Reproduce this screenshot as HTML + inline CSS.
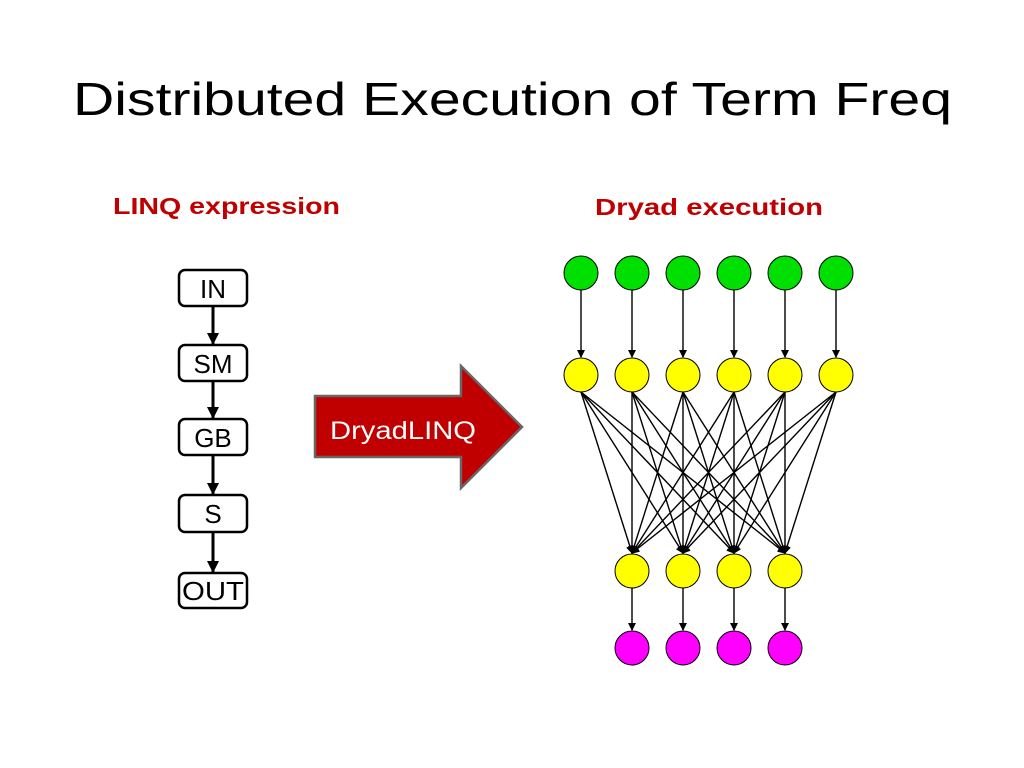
<!DOCTYPE html>
<html><head><meta charset="utf-8"><style>html,body{margin:0;padding:0;background:#fff}svg{display:block}</style></head>
<body>
<svg width="1024" height="768" viewBox="0 0 1024 768" xmlns="http://www.w3.org/2000/svg" font-family="Liberation Sans, sans-serif">
<defs>
<marker id="a" markerWidth="8" markerHeight="8" refX="7" refY="4" orient="auto" markerUnits="userSpaceOnUse"><path d="M0,0 L8,4 L0,8 z" fill="#000"/></marker>
<marker id="b" markerWidth="12" markerHeight="12" refX="11" refY="6" orient="auto" markerUnits="userSpaceOnUse"><path d="M0,0 L12,6 L0,12 z" fill="#000"/></marker>
</defs>
<text x="73" y="115" font-size="46" textLength="879" lengthAdjust="spacingAndGlyphs">Distributed Execution of Term Freq</text>
<text x="113" y="214" font-size="23" font-weight="bold" fill="#c00000" textLength="227" lengthAdjust="spacingAndGlyphs">LINQ expression</text>
<text x="595" y="215" font-size="23" font-weight="bold" fill="#c00000" textLength="228" lengthAdjust="spacingAndGlyphs">Dryad execution</text>
<g stroke="#000" stroke-width="2.5" fill="#fff">
<rect x="179" y="270" width="68" height="36" rx="6"/>
<rect x="179" y="345" width="68" height="36" rx="6"/>
<rect x="179" y="419" width="68" height="36" rx="6"/>
<rect x="179" y="495" width="68" height="37" rx="6"/>
<rect x="179" y="573" width="68" height="35" rx="6"/>
</g>
<g stroke="#000" stroke-width="3" marker-end="url(#b)">
<line x1="213" y1="306" x2="213" y2="344"/>
<line x1="213" y1="381" x2="213" y2="418"/>
<line x1="213" y1="455" x2="213" y2="494"/>
<line x1="213" y1="532" x2="213" y2="572"/>
</g>
<g font-size="26" text-anchor="middle">
<text x="213" y="298">IN</text>
<text x="213" y="373">SM</text>
<text x="213" y="447">GB</text>
<text x="213" y="523">S</text>
<text x="213" y="600" textLength="62" lengthAdjust="spacingAndGlyphs">OUT</text>
</g>
<path d="M315,396 L461,396 L461,366 L522,427 L461,488 L461,457 L315,457 Z" fill="#c00000" stroke="#666" stroke-width="2.5"/>
<text x="330" y="439" font-size="25" fill="#fff" textLength="146" lengthAdjust="spacingAndGlyphs">DryadLINQ</text>
<g stroke="#000" stroke-width="1.4" marker-end="url(#a)">
<line x1="581" y1="290" x2="581" y2="357"/><line x1="632" y1="290" x2="632" y2="357"/><line x1="683" y1="290" x2="683" y2="357"/><line x1="734" y1="290" x2="734" y2="357"/><line x1="785" y1="290" x2="785" y2="357"/><line x1="836" y1="290" x2="836" y2="357"/>
<line x1="581" y1="392" x2="632" y2="553"/><line x1="581" y1="392" x2="683" y2="553"/><line x1="581" y1="392" x2="734" y2="553"/><line x1="581" y1="392" x2="785" y2="553"/>
<line x1="632" y1="392" x2="632" y2="553"/><line x1="632" y1="392" x2="683" y2="553"/><line x1="632" y1="392" x2="734" y2="553"/><line x1="632" y1="392" x2="785" y2="553"/>
<line x1="683" y1="392" x2="632" y2="553"/><line x1="683" y1="392" x2="683" y2="553"/><line x1="683" y1="392" x2="734" y2="553"/><line x1="683" y1="392" x2="785" y2="553"/>
<line x1="734" y1="392" x2="632" y2="553"/><line x1="734" y1="392" x2="683" y2="553"/><line x1="734" y1="392" x2="734" y2="553"/><line x1="734" y1="392" x2="785" y2="553"/>
<line x1="785" y1="392" x2="632" y2="553"/><line x1="785" y1="392" x2="683" y2="553"/><line x1="785" y1="392" x2="734" y2="553"/><line x1="785" y1="392" x2="785" y2="553"/>
<line x1="836" y1="392" x2="632" y2="553"/><line x1="836" y1="392" x2="683" y2="553"/><line x1="836" y1="392" x2="734" y2="553"/><line x1="836" y1="392" x2="785" y2="553"/>
<line x1="632" y1="588" x2="632" y2="630"/><line x1="683" y1="588" x2="683" y2="630"/><line x1="734" y1="588" x2="734" y2="630"/><line x1="785" y1="588" x2="785" y2="630"/>
</g>
<g stroke="#000" stroke-width="1">
<g fill="#00e000"><circle cx="581" cy="273" r="17"/><circle cx="632" cy="273" r="17"/><circle cx="683" cy="273" r="17"/><circle cx="734" cy="273" r="17"/><circle cx="785" cy="273" r="17"/><circle cx="836" cy="273" r="17"/></g>
<g fill="#ffff00"><circle cx="581" cy="375" r="17"/><circle cx="632" cy="375" r="17"/><circle cx="683" cy="375" r="17"/><circle cx="734" cy="375" r="17"/><circle cx="785" cy="375" r="17"/><circle cx="836" cy="375" r="17"/>
<circle cx="632" cy="571" r="17"/><circle cx="683" cy="571" r="17"/><circle cx="734" cy="571" r="17"/><circle cx="785" cy="571" r="17"/></g>
<g fill="#ff00ff"><circle cx="632" cy="648" r="17"/><circle cx="683" cy="648" r="17"/><circle cx="734" cy="648" r="17"/><circle cx="785" cy="648" r="17"/></g>
</g>
</svg>
</body></html>
